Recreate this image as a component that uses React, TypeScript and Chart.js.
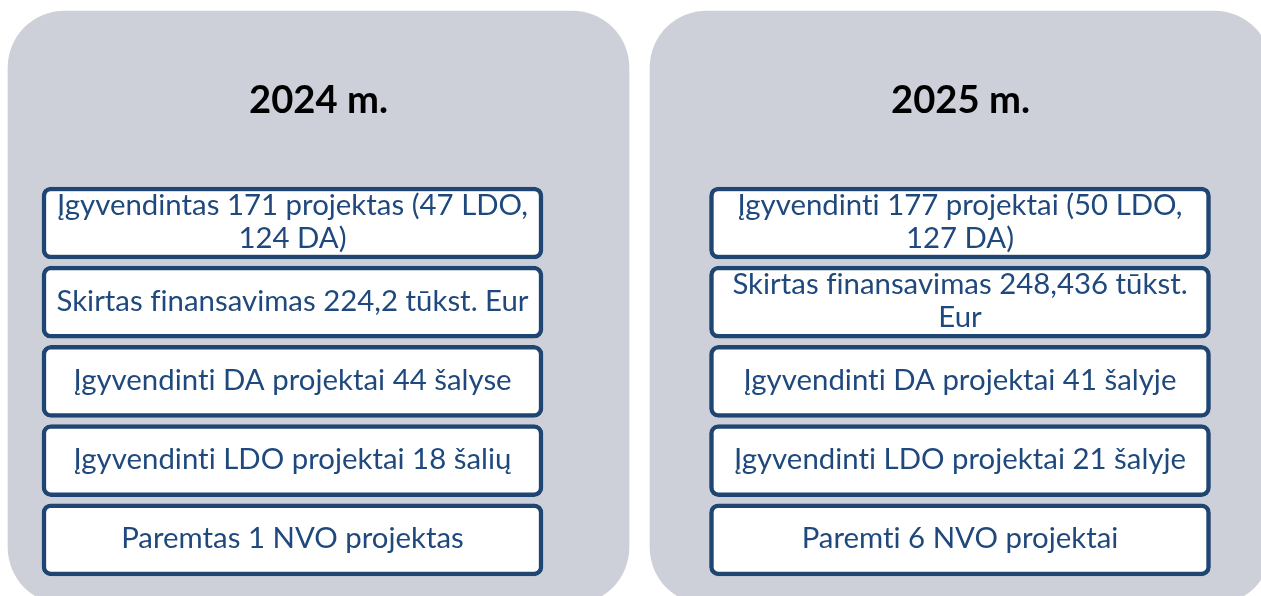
import React, { useEffect, useRef } from "react";
import { Chart, registerables } from "chart.js";

Chart.register(...registerables);

// ---- data ----
const years = ["2024 m.", "2025 m."];
const items2024 = [
  "Įgyvendintas 171 projektas (47 LDO,\n124 DA)",
  "Skirtas finansavimas 224,2 tūkst. Eur",
  "Įgyvendinti DA projektai 44 šalyse",
  "Įgyvendinti LDO projektai 18 šalių",
  "Paremtas 1 NVO projektas",
];
const items2025 = [
  "Įgyvendinti 177 projektai (50 LDO,\n127 DA)",
  "Skirtas finansavimas 248,436 tūkst.\nEur",
  "Įgyvendinti DA projektai 41 šalyje",
  "Įgyvendinti LDO projektai 21 šalyje",
  "Paremti 6 NVO projektai",
];
const columns = [items2024, items2025];

// ---- layout (not data) ----
const W = 1261;
const H = 596;
const COL0_CENTER = 318.5; // px
const COL_PITCH = 642; // px
const ROW0_CENTER = 223; // px
const ROW_PITCH = 79.2; // px
const PANEL_TOP = (11 - ROW0_CENTER) / ROW_PITCH;
const PANEL_BOTTOM = (604 - ROW0_CENTER) / ROW_PITCH;
const TITLE_ROW = (98.5 - ROW0_CENTER) / ROW_PITCH;
const BOX_HALF = 36 / ROW_PITCH;
const BOX_SHIFT = [-26 / COL_PITCH, -0.5 / COL_PITCH];
const PANEL_WIDTH = 621;
const BOX_WIDTH = 501;
const LINE_GAP = 33.3;

const GRAY = "#CDD0D9";
const BORDER = "#1F4572";
const TEXT = "#1F497D";

const textPlugin = {
  id: "boxText",
  afterDatasetsDraw(chart: any) {
    const ctx = chart.ctx as any;
    const xs = chart.scales.x;
    const ys = chart.scales.y;
    ctx.save();
    try { ctx.letterSpacing = "0.01px"; } catch (e) {}
    ctx.font = "bold 100px Lato";
    const tW = ctx.measureText("2024 m.").width;
    const titleSize = (100 * 139) / tW;
    ctx.font = "normal 100px Lato";
    const bW = ctx.measureText("Skirtas finansavimas 224,2 tūkst. Eur").width;
    const bodySize = (100 * 472) / bW;

    ctx.textAlign = "center";
    ctx.textBaseline = "alphabetic";
    years.forEach((yr, c) => {
      ctx.font = `bold ${titleSize}px Lato`;
      ctx.fillStyle = "#000000";
      const capT = ctx.measureText("2024").actualBoundingBoxAscent;
      const tx = xs.getPixelForValue(c);
      const ty = ys.getPixelForValue(TITLE_ROW);
      ctx.fillText(yr, tx, ty + capT / 2);

      ctx.font = `normal ${bodySize}px Lato`;
      ctx.fillStyle = TEXT;
      const capB = ctx.measureText("E").actualBoundingBoxAscent;
      const bx = xs.getPixelForValue(c + BOX_SHIFT[c]);
      columns[c].forEach((txt, r) => {
        const lines = txt.split("\n");
        const cy = ys.getPixelForValue(r) - 2;
        lines.forEach((ln, i) => {
          const ly = cy + (i - (lines.length - 1) / 2) * LINE_GAP;
          ctx.fillText(ln, bx, ly + capB / 2);
        });
      });
    });
    ctx.restore();
  },
};

export default function App() {
  const ref = useRef<HTMLCanvasElement | null>(null);
  useEffect(() => {
    if (!ref.current) return;
    const panelData = years.map((_, c) => ({ x: c, y: [PANEL_TOP, PANEL_BOTTOM] }));
    const boxSets = [0, 1, 2, 3, 4].map((r) => ({
      label: `row${r}`,
      data: years.map((_, c) => ({ x: c + BOX_SHIFT[c], y: [r - BOX_HALF, r + BOX_HALF] })),
      backgroundColor: "#FFFFFF",
      borderColor: BORDER,
      borderWidth: 4.5,
      borderRadius: 9,
      borderSkipped: false,
      barThickness: BOX_WIDTH,
      grouped: false,
      order: 0,
      clip: false,
    }));
    const chart = new Chart(ref.current, {
      type: "bar",
      data: {
        datasets: [
          ...boxSets,
          {
            label: "panels",
            data: panelData,
            backgroundColor: GRAY,
            borderWidth: 0,
            borderRadius: 57,
            borderSkipped: false,
            barThickness: PANEL_WIDTH,
            grouped: false,
            order: 10,
            clip: false,
          },
        ] as any,
      },
      options: {
        animation: false,
        responsive: true,
        maintainAspectRatio: false,
        layout: { padding: 0 },
        plugins: { legend: { display: false }, tooltip: { enabled: false } },
        events: [],
        scales: {
          x: {
            type: "linear",
            display: false,
            offset: false,
            min: -COL0_CENTER / COL_PITCH,
            max: (W - COL0_CENTER) / COL_PITCH,
          },
          y: {
            type: "linear",
            display: false,
            reverse: true,
            min: -ROW0_CENTER / ROW_PITCH,
            max: (H - ROW0_CENTER) / ROW_PITCH,
          },
        },
      } as any,
      plugins: [textPlugin],
    });
    return () => chart.destroy();
  }, []);
  return (
    <div style={{ position: "fixed", left: 0, top: 0, width: W, height: H, background: "#FFFFFF" }}>
      <canvas ref={ref} />
    </div>
  );
}
